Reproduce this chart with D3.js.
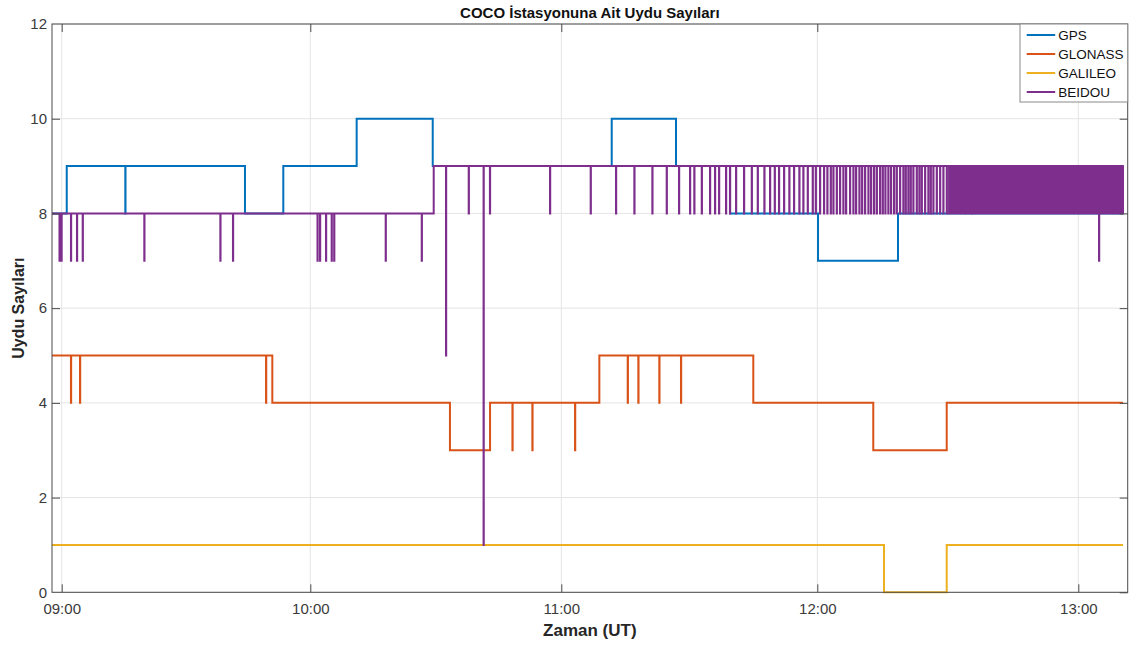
<!DOCTYPE html>
<html><head><meta charset="utf-8">
<script src="https://cdn.jsdelivr.net/npm/d3@7/dist/d3.min.js"></script>
<style>
html,body{margin:0;padding:0;background:#fff;}
svg{display:block;font-family:"Liberation Sans",Arial,Helvetica,sans-serif;}
</style></head>
<body>
<svg id="chart" width="1136" height="646"></svg>
<script>
// ---------------- DATA ----------------
const titleText = "COCO İstasyonuna Ait Uydu Sayıları";
const xLabelText = "Zaman (UT)";
const yLabelText = "Uydu Sayıları";
const seriesNames = ["GPS", "GLONASS", "GALILEO", "BEIDOU"];
const seriesColors = ["#0072BD", "#D95319", "#EDB120", "#7E2F8E"];
const xTickLabels = ["09:00", "10:00", "11:00", "12:00", "13:00"];
const yTickValues = [0, 2, 4, 6, 8, 10, 12];
const timeStart = "08:57:40";
const timeEnd = "13:10:17";
const axisEnd = "13:11:22";

// step changes [time, count]
const gpsSteps = [["08:57:40",8],["09:01:13",9],["09:44:14",8],["09:53:29",9],["10:11:05",10],["10:29:16",9],["11:11:49",10],["11:26:53",9],["11:39:32",8],["12:00:10",7],["12:18:33",8]];
const gpsDips = [["09:15:21",8]];

const glonassSteps = [["08:57:40",5],["09:50:50",4],["10:33:23",3],["10:42:58",4],["11:08:55",5],["11:45:00",4],["12:12:52",3],["12:29:45",4]];
const glonassDips = [["09:02:14",4],["09:04:25",4],["09:49:19",4],["10:48:19",3],["10:53:05",3],["11:03:13",3],["11:15:34",4],["11:18:03",4],["11:22:58",4],["11:28:03",4]];

const galileoSteps = [["08:57:40",1],["12:15:20",0],["12:29:45",1]];
const galileoDips = [];

const beidouSteps = [["08:57:40",8],["10:29:30",9]];
const beidouDips = [
  ["08:59:28",7],["08:59:57",7],["09:02:14",7],["09:03:41",7],["09:05:04",7],["09:19:56",7],["09:38:17",7],["09:41:20",7],
  ["10:01:43",7],["10:02:19",7],["10:03:45",7],["10:05:06",7],["10:05:42",7],["10:18:01",7],["10:26:38",7],
  ["10:32:26",5],["10:37:52",8],["10:41:25",1],["10:42:56",8],["10:57:18",8],["11:06:53",8],["11:12:49",8],
  ["11:17:07",8],["11:21:20",8],["11:24:42",8],["11:27:35",8],["11:30:10",8],["11:31:10",8],["11:32:55",8],
  ["11:34:51",8],["11:36:01",8],["11:36:58",8],["11:38:36",8],["11:39:32",8],["11:40:57",8],["11:42:49",8],
  ["11:44:38",8],["11:46:02",8],["11:47:35",8],["11:48:55",8],["11:50:01",8],["11:51:01",8],["11:52:12",8],
  ["11:53:26",8],["11:54:32",8],["11:55:47",8],["11:56:43",8],["11:57:45",8],["11:58:55",8],["11:59:38",8],
  ["12:00:37",8],["12:01:32",8],["12:02:18",8],["12:03:05",8],["12:03:41",8],["12:04:28",8],["12:05:13",8],
  ["12:05:59",8],["12:06:36",8],["12:07:31",8],["12:08:17",8],["12:08:54",8],["12:09:40",8],["12:10:17",8],
  ["12:10:58",8],["12:11:44",8],["12:12:21",8],["12:13:02",8],["12:13:40",8],["12:14:25",8],["12:15:02",8],
  ["12:15:38",8],["12:16:19",8],["12:16:56",8],["12:17:38",8],["12:18:15",8],["12:19:01",8],["12:19:46",8],
  ["12:20:19",8],["12:20:55",8],["12:21:28",8],["12:22:04",8],["12:22:51",8],["12:23:27",8],["12:24:00",8],
  ["12:24:46",8],["12:25:31",8],["12:26:04",8],["12:26:40",8],["12:27:27",8],["12:28:13",8],["12:28:58",8],
  ["12:29:45",8],["13:04:46",7]
];
// intervals where BEIDOU flips 8<->9 faster than the plot can resolve [from, to, low, high]
const beidouDense = [["12:30:17","12:33:55",8,9],["12:34:10","12:35:28",8,9],["12:35:40","13:10:17",8,9]];

// ---------------- CHART ----------------
const parse = d3.timeParse("%H:%M:%S");
const parseHM = d3.timeParse("%H:%M");
const svg = d3.select("#chart");
const L = 52, R = 1127.7, T = 24, B = 592.3;

const xTicks = xTickLabels.map(parseHM);
const x = d3.scaleTime()
  .domain([parse(timeStart), ...xTicks, parse(axisEnd)])
  .range([L, 61.7, 310.3, 561.3, 817.3, 1078.3, R]);
const y = d3.scaleLinear().domain([0, 12]).range([B, T]);

// grid
const grid = svg.append("g").attr("stroke", "#e4e4e4").attr("stroke-width", 1);
grid.selectAll(".gx").data(xTicks).join("line")
  .attr("x1", d => x(d)).attr("x2", d => x(d)).attr("y1", T).attr("y2", B);
grid.selectAll(".gy").data(yTickValues).join("line")
  .attr("x1", L).attr("x2", R).attr("y1", d => y(d)).attr("y2", d => y(d));

// series
const DIP_SEC = 3;
function buildPoints(steps, dips) {
  const st = steps.map(([t, v]) => ({ t: parse(t), v }));
  const baseAt = t => { let v = st[0].v; for (const s of st) if (s.t <= t) v = s.v; return v; };
  const pts = st.slice();
  dips.forEach(([t, v]) => {
    const tt = parse(t);
    pts.push({ t: tt, v });
    pts.push({ t: new Date(tt.getTime() + DIP_SEC * 1000), v: baseAt(tt) });
  });
  pts.sort((a, b) => a.t - b.t);
  pts.push({ t: parse(timeEnd), v: pts[pts.length - 1].v });
  return pts;
}
const seriesData = [
  buildPoints(gpsSteps, gpsDips),
  buildPoints(glonassSteps, glonassDips),
  buildPoints(galileoSteps, galileoDips),
  buildPoints(beidouSteps, beidouDips)
];
const line = d3.line().x(d => x(d.t)).y(d => y(d.v)).curve(d3.curveStepAfter);
const plot = svg.append("g");
seriesData.forEach((pts, i) => {
  if (i === 3) {
    plot.selectAll(".dense").data(beidouDense).join("rect")
      .attr("x", d => x(parse(d[0])))
      .attr("width", d => x(parse(d[1])) - x(parse(d[0])))
      .attr("y", d => y(d[3]))
      .attr("height", d => y(d[2]) - y(d[3]))
      .attr("fill", seriesColors[3]).attr("stroke", seriesColors[3]).attr("stroke-width", 2);
  }
  plot.append("path").datum(pts)
    .attr("d", line).attr("fill", "none")
    .attr("stroke", seriesColors[i]).attr("stroke-width", 2);
});

// axes box
svg.append("rect").attr("x", L).attr("y", T).attr("width", R - L).attr("height", B - T)
  .attr("fill", "none").attr("stroke", "#4a4a4a").attr("stroke-width", 1);

const tickColor = "#4a4a4a", labelColor = "#3a3a3a";
const gxb = svg.append("g").attr("transform", `translate(0,${B})`)
  .call(d3.axisBottom(x).tickValues(xTicks).tickFormat(d3.timeFormat("%H:%M")).tickSize(-8).tickSizeOuter(0));
const gxt = svg.append("g").attr("transform", `translate(0,${T})`)
  .call(d3.axisTop(x).tickValues(xTicks).tickFormat("").tickSize(-8).tickSizeOuter(0));
const gyl = svg.append("g").attr("transform", `translate(${L},0)`)
  .call(d3.axisLeft(y).tickValues(yTickValues).tickSize(-8).tickSizeOuter(0).tickPadding(5));
const gyr = svg.append("g").attr("transform", `translate(${R},0)`)
  .call(d3.axisRight(y).tickValues(yTickValues).tickFormat("").tickSize(-8).tickSizeOuter(0));
[gxb, gxt, gyl, gyr].forEach(g => {
  g.select(".domain").remove();
  g.selectAll(".tick line").attr("stroke", tickColor);
  g.selectAll("text").attr("fill", labelColor).attr("font-size", 15)
    .attr("font-family", '"Liberation Sans",Arial,sans-serif');
});
gxb.selectAll("text").attr("y", 22).attr("dy", null);
gyl.selectAll(".tick").filter(d => d === 12 || d === 0).select("line").remove();
gxt.selectAll("text").remove(); gyr.selectAll("text").remove();

// titles
svg.append("text").attr("x", (L + R) / 2).attr("y", 18).attr("text-anchor", "middle")
  .attr("font-weight", "bold").attr("font-size", 15).attr("fill", "#111").text(titleText);
svg.append("text").attr("x", (L + R) / 2).attr("y", 636).attr("text-anchor", "middle")
  .attr("font-weight", "bold").attr("font-size", 17).attr("fill", "#262626").text(xLabelText);
svg.append("text").attr("transform", `translate(24,${(T + B) / 2}) rotate(-90)`).attr("text-anchor", "middle")
  .attr("font-weight", "bold").attr("font-size", 16).attr("fill", "#262626").text(yLabelText);

// legend
const lg = svg.append("g");
lg.append("rect").attr("x", 1020).attr("y", T).attr("width", R - 1020).attr("height", 78)
  .attr("fill", "#fff").attr("stroke", "#8a8a8a").attr("stroke-width", 1);
const items = lg.selectAll(".li").data(seriesNames).join("g")
  .attr("transform", (d, i) => `translate(1026.7,${35 + i * 19})`);
items.append("line").attr("x1", 0).attr("x2", 28.5).attr("y1", 0).attr("y2", 0)
  .attr("stroke", (d, i) => seriesColors[i]).attr("stroke-width", 2);
items.append("text").attr("x", 31.5).attr("y", 0).attr("dy", "0.36em")
  .attr("font-size", 13.5).attr("fill", "#111").text(d => d);
</script>
</body></html>
